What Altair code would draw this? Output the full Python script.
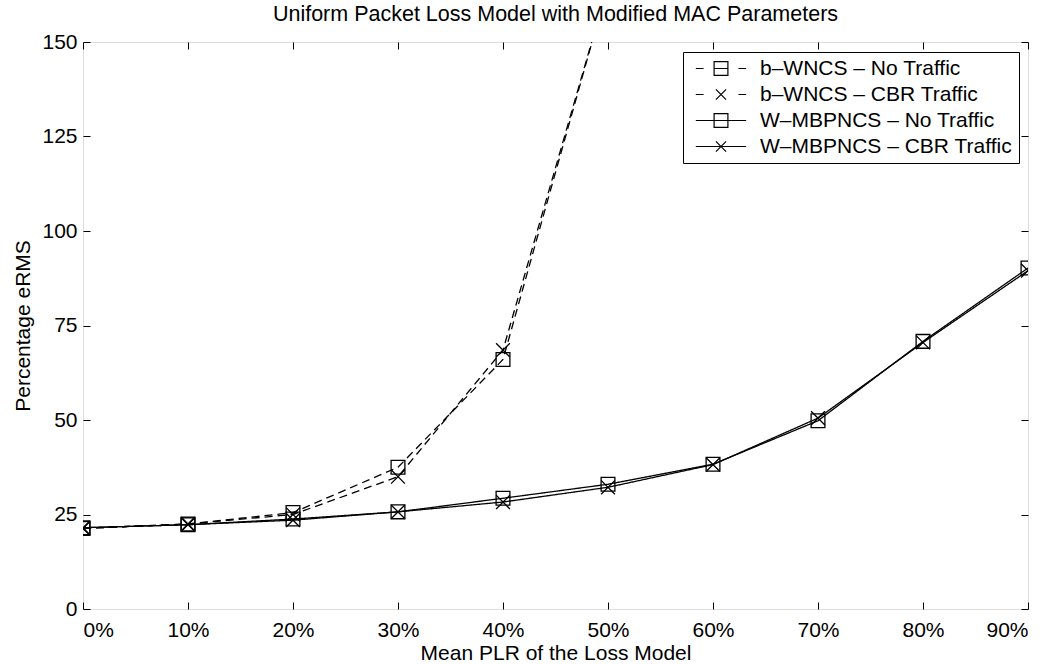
import altair as alt
import pandas as pd

# Mean packet loss ratio (%) on the x axis
plr = [0, 10, 20, 30, 40, 50, 60, 70, 80, 90]

# Percentage eRMS per scheme (b-WNCS leaves the axis range after 40%)
bwncs_no_traffic = [21.3, 22.5, 25.5, 37.5, 66.0, 165.0]
bwncs_cbr_traffic = [21.3, 22.5, 25.0, 35.0, 68.5, 165.0]
wmbpncs_no_traffic = [21.5, 22.3, 23.8, 25.7, 29.3, 33.0, 38.3, 49.8, 70.8, 90.2]
wmbpncs_cbr_traffic = [21.5, 22.3, 23.5, 25.7, 28.3, 32.2, 38.2, 50.5, 70.5, 89.5]

series_names = [
    "b–WNCS – No Traffic",
    "b–WNCS – CBR Traffic",
    "W–MBPNCS – No Traffic",
    "W–MBPNCS – CBR Traffic",
]
series_values = [bwncs_no_traffic, bwncs_cbr_traffic, wmbpncs_no_traffic, wmbpncs_cbr_traffic]
y_ticks = [0, 25, 50, 75, 100, 125, 150]

rows = []
for name, values in zip(series_names, series_values):
    for p, v in zip(plr, values):
        rows.append({"plr": p, "erms": v, "series": name})
df = pd.DataFrame(rows)

FONT = "Liberation Sans"
FS = 21
X_MARK = "M-1,-1L1,1M-1,1L1,-1"

# Legend glyphs: marker with the line (dashed or solid) running through it
SQ = "M-1.15,-1.15H1.15V1.15H-1.15Z"
XL = "M-0.85,-0.85L0.85,0.85M-0.85,0.85L0.85,-0.85"
DASH_ENDS = "M-4.2,0H-2.9M2.9,0H4.2"
SOLID = "M-4.2,0H4.2"
legend_paths = [SQ + DASH_ENDS + "M-1.15,0H1.15", XL + DASH_ENDS, SQ + SOLID, XL + SOLID]

x_scale = alt.Scale(domain=[0, 90], nice=False, zero=False)
y_scale = alt.Scale(domain=[0, 150], nice=False)

TICK = 7

# Axes: labelled axes on bottom/left, plus inward tick axes on all four sides
x_label_axis = alt.Axis(
    values=plr, labelExpr="datum.value + '%'", ticks=False, domain=False, grid=False,
    title="Mean PLR of the Loss Model", labelFontSize=FS, titleFontSize=FS,
    labelPadding=10, titlePadding=2, labelColor="black", titleColor="black",
    titleFontWeight="normal", labelFont=FONT, titleFont=FONT, orient="bottom",
)
y_label_axis = alt.Axis(
    values=y_ticks, ticks=False, domain=False, grid=False,
    title="Percentage eRMS", labelFontSize=FS, titleFontSize=FS,
    labelPadding=6, titlePadding=8, labelColor="black", titleColor="black",
    titleFontWeight="normal", labelFont=FONT, titleFont=FONT, orient="left",
)


def tick_axis(orient, values):
    return alt.Axis(
        values=values, orient=orient, offset=-TICK, tickSize=TICK, ticks=True,
        labels=False, domain=False, grid=False, title=None,
        tickColor="black", tickWidth=1,
    )


lines = alt.Chart(df).mark_line(color="black", strokeWidth=1.3, clip=True).encode(
    x=alt.X("plr:Q", scale=x_scale, axis=x_label_axis),
    y=alt.Y("erms:Q", scale=y_scale, axis=y_label_axis),
    detail="series:N",
    strokeDash=alt.StrokeDash(
        "series:N",
        scale=alt.Scale(domain=series_names, range=[[8, 5], [8, 5], [1, 0], [1, 0]]),
        legend=None,
    ),
)

points = alt.Chart(df).mark_point(
    color="black", filled=False, strokeWidth=1.3, size=190, clip=True, opacity=1
).encode(
    x=alt.X("plr:Q", scale=x_scale, axis=tick_axis("bottom", plr)),
    y=alt.Y("erms:Q", scale=y_scale, axis=tick_axis("left", y_ticks)),
    shape=alt.Shape(
        "series:N",
        scale=alt.Scale(domain=series_names, range=["square", X_MARK, "square", X_MARK]),
        legend=None,
    ),
)

legend_layer = alt.Chart(df).mark_point(
    color="black", filled=False, opacity=0, clip=True
).encode(
    x=alt.X("plr:Q", scale=x_scale, axis=tick_axis("top", plr)),
    y=alt.Y("erms:Q", scale=y_scale, axis=tick_axis("right", y_ticks)),
    shape=alt.Shape(
        "series:N",
        scale=alt.Scale(domain=series_names, range=legend_paths),
        legend=alt.Legend(
            title=None, orient="none", legendX=600, legendY=10,
            strokeColor="black", fillColor="white", padding=6,
            symbolSize=144, symbolOpacity=1, symbolStrokeColor="black",
            symbolStrokeWidth=1.2, symbolFillColor="transparent",
            symbolOffset=21.5, labelOffset=28.5,
            labelFontSize=FS, labelFont=FONT, labelColor="black",
            rowPadding=4, labelLimit=400,
        ),
    ),
)

chart = (
    alt.layer(lines, points, legend_layer)
    .resolve_scale(shape="independent", strokeDash="independent")
    .resolve_axis(x="independent", y="independent")
    .properties(
        width=945,
        height=567,
        title=alt.TitleParams(
            "Uniform Packet Loss Model with Modified MAC Parameters",
            fontSize=21.5, fontWeight="normal", font=FONT, color="black",
            anchor="middle", offset=6,
        ),
        autosize=alt.AutoSizeParams(type="none"),
        padding={"left": 83, "top": 42, "right": 26, "bottom": 55},
    )
    .configure_view(stroke="black", strokeWidth=1.2)
    .configure(background="white")
)

chart.save("out.html", embed_options={"renderer": "svg", "actions": False})
